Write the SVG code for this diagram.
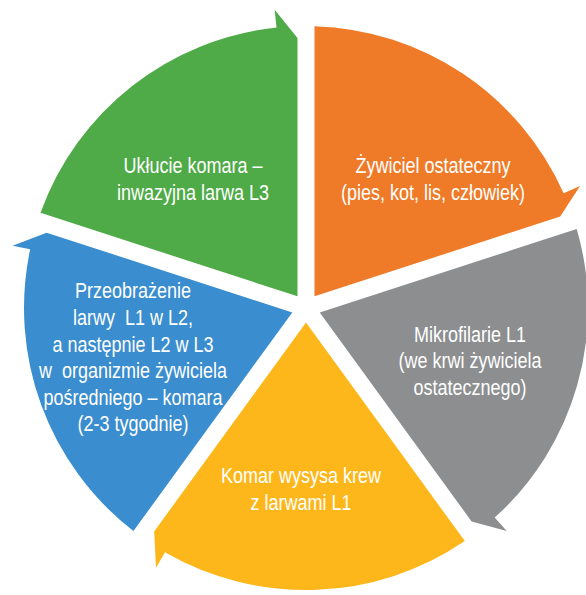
<svg xmlns="http://www.w3.org/2000/svg" width="586" height="595" viewBox="0 0 586 595">
<style>
.lbl{font-family:"Liberation Sans",Arial,sans-serif;font-size:22.5px;fill:#ffffff;text-anchor:middle;white-space:pre}
</style>
<rect width="586" height="595" fill="#ffffff"/>
<g id="node-orange">
<path d="M314.5,296.3 L314.5,26.13 A282,282 0 0 1 563.61,193.3 L580.05,185.98 L560.16,216.49 Z" fill="#EF7A27"/>
<g transform="translate(433,0) scale(0.8,1)">
<text class="lbl" x="0" y="173">Żywiciel ostateczny</text>
<text class="lbl" x="0" y="200">(pies, kot, lis, człowiek)</text>
</g>
</g>
<g id="node-gray">
<path d="M319.75,312.47 L576.71,228.98 A282,282 0 0 1 494.69,517.56 L506.73,530.94 L471.58,521.43 Z" fill="#8C8E90"/>
<g transform="translate(470,0) scale(0.8,1)">
<text class="lbl" x="0" y="342">Mikrofilarie L1</text>
<text class="lbl" x="0" y="368">(we krwi żywiciela</text>
<text class="lbl" x="0" y="395">ostatecznego)</text>
</g>
</g>
<g id="node-yellow">
<path d="M306,322.46 L464.8,541.03 A282,282 0 0 1 165,552.22 L156,567.81 L154.18,531.43 Z" fill="#FDB71A"/>
<g transform="translate(301,0) scale(0.8,1)">
<text class="lbl" x="0" y="483">Komar wysysa krew</text>
<text class="lbl" x="0" y="510">z larwami L1</text>
</g>
</g>
<g id="node-blue">
<path d="M292.25,312.47 L133.44,531.03 A282,282 0 0 1 30.17,249.37 L12.56,245.63 L46.58,232.65 Z" fill="#3A8DCE"/>
<g transform="translate(133,0) scale(0.8,1)">
<text class="lbl" x="0" y="298">Przeobrażenie</text>
<text class="lbl" x="0" y="325">larwy  L1 w L2,</text>
<text class="lbl" x="0" y="352">a następnie L2 w L3</text>
<text class="lbl" x="0" y="378">w  organizmie żywiciela</text>
<text class="lbl" x="0" y="405">pośredniego – komara</text>
<text class="lbl" x="0" y="431">(2-3 tygodnie)</text>
</g>
</g>
<g id="node-green">
<path d="M297.5,296.3 L40.55,212.82 A282,282 0 0 1 276.52,27.54 L274.64,9.64 L297.5,38 Z" fill="#4FAB47"/>
<g transform="translate(193,0) scale(0.8,1)">
<text class="lbl" x="0" y="173">Ukłucie komara –</text>
<text class="lbl" x="0" y="200">inwazyjna larwa L3</text>
</g>
</g>
</svg>
